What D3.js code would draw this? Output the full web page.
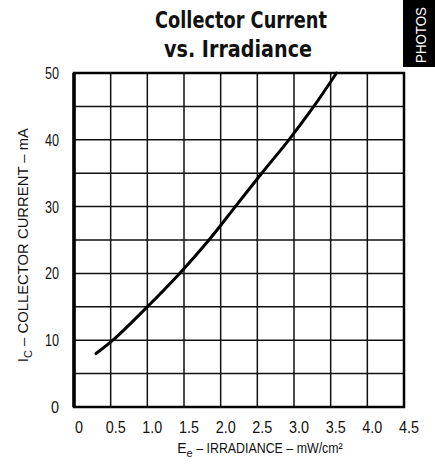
<!DOCTYPE html>
<html><head><meta charset="utf-8">
<script src="https://cdn.jsdelivr.net/npm/d3@7"></script>
<style>
body{margin:0;background:#fff;}
text{font-family:"Liberation Sans",Arial,sans-serif;fill:#111;}
</style></head><body>
<svg id="c" width="435" height="466"></svg>
<script>
const titleLines = ["Collector Current", "vs. Irradiance"];
const xTicks = [0, 0.5, 1.0, 1.5, 2.0, 2.5, 3.0, 3.5, 4.0, 4.5];
const xTickLabels = ["0", "0.5", "1.0", "1.5", "2.0", "2.5", "3.0", "3.5", "4.0", "4.5"];
const yTicks = [0, 10, 20, 30, 40, 50];
const yGrid = [0, 5, 10, 15, 20, 25, 30, 35, 40, 45, 50];
const irradiance = [0.3, 0.53, 1.0, 1.44, 1.84, 2.2, 2.56, 2.93, 3.27, 3.58];
const current = [8, 10, 15, 20, 25, 30, 35, 40, 45, 50];

const svg = d3.select("#c");
const L = 74, R = 404, T = 73, B = 407;
const x = d3.scaleLinear().domain([0, 4.5]).range([L, R]);
const y = d3.scaleLinear().domain([0, 50]).range([B, T]);

// side tab
svg.append("rect").attr("x", 403).attr("y", 0).attr("width", 32).attr("height", 67).attr("fill", "#000");
svg.append("text").attr("transform", "translate(426,63) rotate(-90)")
  .style("fill", "#fff").style("font-size", "15px")
  .attr("textLength", 56).attr("lengthAdjust", "spacingAndGlyphs")
  .text("PHOTOS");

// title
const titleW = [172, 148];
svg.selectAll("text.title").data(titleLines).join("text").attr("class", "title")
  .attr("x", (d, i) => i ? 238 : 241).attr("y", (d, i) => 28 + i * 29).attr("text-anchor", "middle")
  .attr("textLength", (d, i) => titleW[i]).attr("lengthAdjust", "spacingAndGlyphs")
  .style("font-family", "'DejaVu Sans',sans-serif")
  .style("font-size", "23px").style("font-weight", "bold").text(d => d);

// grid
const g = svg.append("g");
g.selectAll("line.v").data(xTicks).join("line").attr("class", "v")
  .attr("x1", d => x(d)).attr("x2", d => x(d)).attr("y1", T).attr("y2", B)
  .attr("stroke", "#111").attr("stroke-width", 1.5);
g.selectAll("line.h").data(yGrid).join("line").attr("class", "h")
  .attr("x1", L).attr("x2", R).attr("y1", d => y(d)).attr("y2", d => y(d))
  .attr("stroke", "#111").attr("stroke-width", 1.5);
g.append("rect").attr("x", L).attr("y", T).attr("width", R - L).attr("height", B - T)
  .attr("fill", "none").attr("stroke", "#000").attr("stroke-width", 2.5);
g.append("line").attr("x1", L).attr("x2", L).attr("y1", T).attr("y2", B)
  .attr("stroke", "#000").attr("stroke-width", 3.5);

// curve
const pts = irradiance.map((v, i) => [v, current[i]]);
svg.append("path").datum(pts)
  .attr("d", d3.line().x(d => x(d[0])).y(d => y(d[1])).curve(d3.curveCatmullRom))
  .attr("fill", "none").attr("stroke", "#000").attr("stroke-width", 3).attr("stroke-linecap", "round");

// tick labels
svg.selectAll("text.xt").data(xTicks).join("text").attr("class", "xt")
  .attr("x", d => x(d) + 5).attr("y", 433).attr("text-anchor", "middle")
  .attr("textLength", (d, i) => xTickLabels[i].length > 1 ? 20 : 8).attr("lengthAdjust", "spacingAndGlyphs")
  .style("font-size", "16px").text((d, i) => xTickLabels[i]);
svg.selectAll("text.yt").data(yTicks).join("text").attr("class", "yt")
  .attr("x", 59).attr("y", d => y(d) + 6).attr("text-anchor", "end")
  .attr("textLength", d => d ? 14 : 8).attr("lengthAdjust", "spacingAndGlyphs")
  .style("font-size", "16px").text(d => d);

// axis titles
const xt = svg.append("text").attr("x", 260).attr("y", 453).attr("text-anchor", "middle").style("font-size", "14px");
xt.append("tspan").text("E");
xt.append("tspan").attr("dy", 4).style("font-size", "11px").text("e");
xt.append("tspan").attr("dy", -4).attr("textLength", 150).attr("lengthAdjust", "spacingAndGlyphs")
  .text(" \u2013 IRRADIANCE \u2013 mW/cm\u00B2");

const yt = svg.append("text").attr("transform", "translate(28,245) rotate(-90)").attr("text-anchor", "middle").style("font-size", "14px");
yt.append("tspan").text("I");
yt.append("tspan").attr("dy", 4).style("font-size", "11px").text("C");
yt.append("tspan").attr("dy", -4).attr("textLength", 222).attr("lengthAdjust", "spacingAndGlyphs")
  .text(" \u2013 COLLECTOR CURRENT \u2013 mA");
</script></body></html>
